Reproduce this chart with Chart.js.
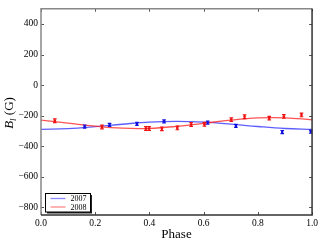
<!DOCTYPE html>
<html><head><meta charset="utf-8">
<script src="https://cdn.jsdelivr.net/npm/chart.js@4"></script>
<style>html,body{margin:0;padding:0;background:#fff}canvas{display:block}</style>
</head><body>
<canvas id="c" width="321" height="240" style="width:321px;height:240px"></canvas>
<script>
// ---- data ----
const phase2007 = [0.161, 0.253, 0.354, 0.454, 0.615, 0.719, 0.890, 0.995];
const field2007 = [-271, -261, -254, -237, -246, -267, -307, -305];
const err2007   = [10, 10, 10, 10, 10, 10, 10, 10];
const phase2008 = [0.051, 0.225, 0.387, 0.399, 0.446, 0.503, 0.554, 0.603, 0.702, 0.751, 0.842, 0.896, 0.961];
const field2008 = [-233, -274, -284, -284, -286, -280, -258, -256, -226, -207, -216, -205, -195];
const err2008   = [12, 12, 12, 12, 12, 12, 12, 12, 12, 12, 12, 12, 12];
const curvePhase = [0, 0.1, 0.2, 0.3, 0.4, 0.5, 0.6, 0.7, 0.8, 0.9, 1.0];
const curve2007  = [-290, -285, -272, -256, -242, -237, -242, -255, -271, -284, -290];
const curve2008  = [-229, -249, -269, -282, -283, -270, -250, -229, -215, -214, -227];
const xTicks = [0, 0.2, 0.4, 0.6, 0.8, 1.0];
const yTicks = [-800, -600, -400, -200, 0, 200, 400];
const seriesNames = ['2007', '2008'];

const SERIF = '"Liberation Serif", "DejaVu Serif", serif';
const pts = (xs, ys) => xs.map((x, i) => ({x: x, y: ys[i]}));

const errorBars = {
  id: 'errorBars',
  afterDatasetsDraw(chart) {
    const ctx = chart.ctx, xs = chart.scales.x, ys = chart.scales.y;
    chart.data.datasets.forEach(ds => {
      if (!ds.errors) return;
      ctx.save();
      ctx.strokeStyle = ds.borderColor; ctx.lineWidth = 1.2;
      ds.data.forEach((p, i) => {
        const px = xs.getPixelForValue(p.x);
        const y1 = ys.getPixelForValue(p.y - ds.errors[i]);
        const y2 = ys.getPixelForValue(p.y + ds.errors[i]);
        ctx.beginPath();
        ctx.moveTo(px, y1); ctx.lineTo(px, y2);
        ctx.moveTo(px - 1.8, y1); ctx.lineTo(px + 1.8, y1);
        ctx.moveTo(px - 1.8, y2); ctx.lineTo(px + 1.8, y2);
        ctx.stroke();
      });
      ctx.restore();
    });
  }
};

const frame = {
  id: 'frame',
  afterDraw(chart) {
    const ctx = chart.ctx, a = chart.chartArea, xs = chart.scales.x, ys = chart.scales.y;
    ctx.save();
    ctx.lineWidth = 1;
    // inward ticks
    ctx.strokeStyle = '#555';
    ctx.beginPath();
    xTicks.forEach(v => {
      const px = Math.round(xs.getPixelForValue(v)) + 0.5;
      ctx.moveTo(px, a.bottom); ctx.lineTo(px, a.bottom - 3);
      ctx.moveTo(px, a.top); ctx.lineTo(px, a.top + 3);
    });
    yTicks.forEach(v => {
      const py = Math.round(ys.getPixelForValue(v)) + 0.5;
      ctx.moveTo(a.left, py); ctx.lineTo(a.left + 3, py);
      ctx.moveTo(a.right, py); ctx.lineTo(a.right - 3, py);
    });
    ctx.stroke();
    // frame
    ctx.lineWidth = 1.5;
    ctx.strokeStyle = '#888';
    ctx.beginPath();
    ctx.moveTo(a.left, a.bottom); ctx.lineTo(a.left, a.top); ctx.lineTo(a.right, a.top);
    ctx.stroke();
    ctx.strokeStyle = '#333';
    ctx.beginPath();
    ctx.moveTo(a.right, a.top); ctx.lineTo(a.right, a.bottom); ctx.lineTo(a.left, a.bottom);
    ctx.stroke();
    // legend
    const lx = a.left + 4.5, ly = 193.5, lw = 45, lh = 18.5;
    ctx.fillStyle = '#222';
    ctx.fillRect(lx + 1.5, ly + 1.5, lw, lh);
    ctx.fillStyle = '#fff';
    ctx.fillRect(lx, ly, lw, lh);
    ctx.lineWidth = 1; ctx.strokeStyle = '#000';
    ctx.strokeRect(lx, ly, lw, lh);
    const cols = ['rgba(110,110,255,0.8)', 'rgba(255,110,110,0.8)'];
    ctx.font = '8px ' + SERIF;
    ctx.textBaseline = 'middle'; ctx.textAlign = 'left';
    seriesNames.forEach((n, i) => {
      const yy = ly + 5 + i * 8.5;
      ctx.strokeStyle = cols[i]; ctx.lineWidth = 1.3;
      ctx.beginPath(); ctx.moveTo(lx + 5, yy); ctx.lineTo(lx + 20, yy); ctx.stroke();
      ctx.fillStyle = '#000';
      ctx.fillText(n, lx + 25, yy + 0.5);
    });
    // y axis title: B_l (G)
    ctx.translate(13, 113);
    ctx.rotate(-Math.PI / 2);
    ctx.fillStyle = '#000';
    ctx.textBaseline = 'alphabetic';
    const f1 = 'italic 13px ' + SERIF, f2 = 'italic 9px ' + SERIF, f3 = '13px ' + SERIF;
    ctx.font = f1; const w1 = ctx.measureText('B').width;
    ctx.font = f2; const w2 = ctx.measureText('l').width;
    ctx.font = f3; const w3 = ctx.measureText(' (G)').width;
    let x0 = -(w1 + w2 + w3) / 2;
    ctx.font = f1; ctx.fillText('B', x0, 0); x0 += w1;
    ctx.font = f2; ctx.fillText('l', x0, 3); x0 += w2;
    ctx.font = f3; ctx.fillText(' (G)', x0, 0);
    ctx.restore();
  }
};

new Chart(document.getElementById('c'), {
  type: 'scatter',
  data: {
    datasets: [
      { type: 'line', label: seriesNames[0], data: pts(curvePhase, curve2007), borderColor: 'rgba(40,40,255,0.75)', borderWidth: 1.3, pointRadius: 0, tension: 0.4, fill: false, order: 3 },
      { type: 'line', label: seriesNames[1], data: pts(curvePhase, curve2008), borderColor: 'rgba(255,40,40,0.8)', borderWidth: 1.3, pointRadius: 0, tension: 0.4, fill: false, order: 2 },
      { label: seriesNames[0] + ' obs', data: pts(phase2007, field2007), errors: err2007, borderColor: '#1010dd', backgroundColor: '#1010dd', pointRadius: 1.3, pointBorderWidth: 0, order: 1 },
      { label: seriesNames[1] + ' obs', data: pts(phase2008, field2008), errors: err2008, borderColor: '#ee1010', backgroundColor: '#ee1010', pointRadius: 1.3, pointBorderWidth: 0, order: 0 }
    ]
  },
  options: {
    responsive: false,
    animation: false,
    events: [],
    layout: { padding: { left: 0, right: 7, top: 4.5, bottom: 0 } },
    plugins: { legend: { display: false }, tooltip: { enabled: false } },
    scales: {
      x: {
        type: 'linear', min: 0, max: 1,
        afterBuildTicks: s => { s.ticks = xTicks.map(v => ({ value: v })); },
        afterFit: s => { s.height = 25; },
        grid: { display: false, drawTicks: false },
        border: { display: false },
        ticks: { padding: 3, color: '#000', font: { family: SERIF, size: 9.5 }, maxRotation: 0, callback: v => v.toFixed(1) },
        title: { display: true, text: 'Phase', color: '#000', font: { family: SERIF, size: 13, lineHeight: 1 }, padding: { top: 0, bottom: -1 } }
      },
      y: {
        type: 'linear', min: -850, max: 500,
        afterBuildTicks: s => { s.ticks = yTicks.map(v => ({ value: v })); },
        afterFit: s => { s.width = 41; },
        grid: { display: false, drawTicks: false },
        border: { display: false },
        ticks: { padding: 3, color: '#000', font: { family: SERIF, size: 9.5 }, callback: v => (v < 0 ? '\u2212' + Math.abs(v) : String(v)) }
      }
    }
  },
  plugins: [errorBars, frame]
});
</script>
</body></html>
